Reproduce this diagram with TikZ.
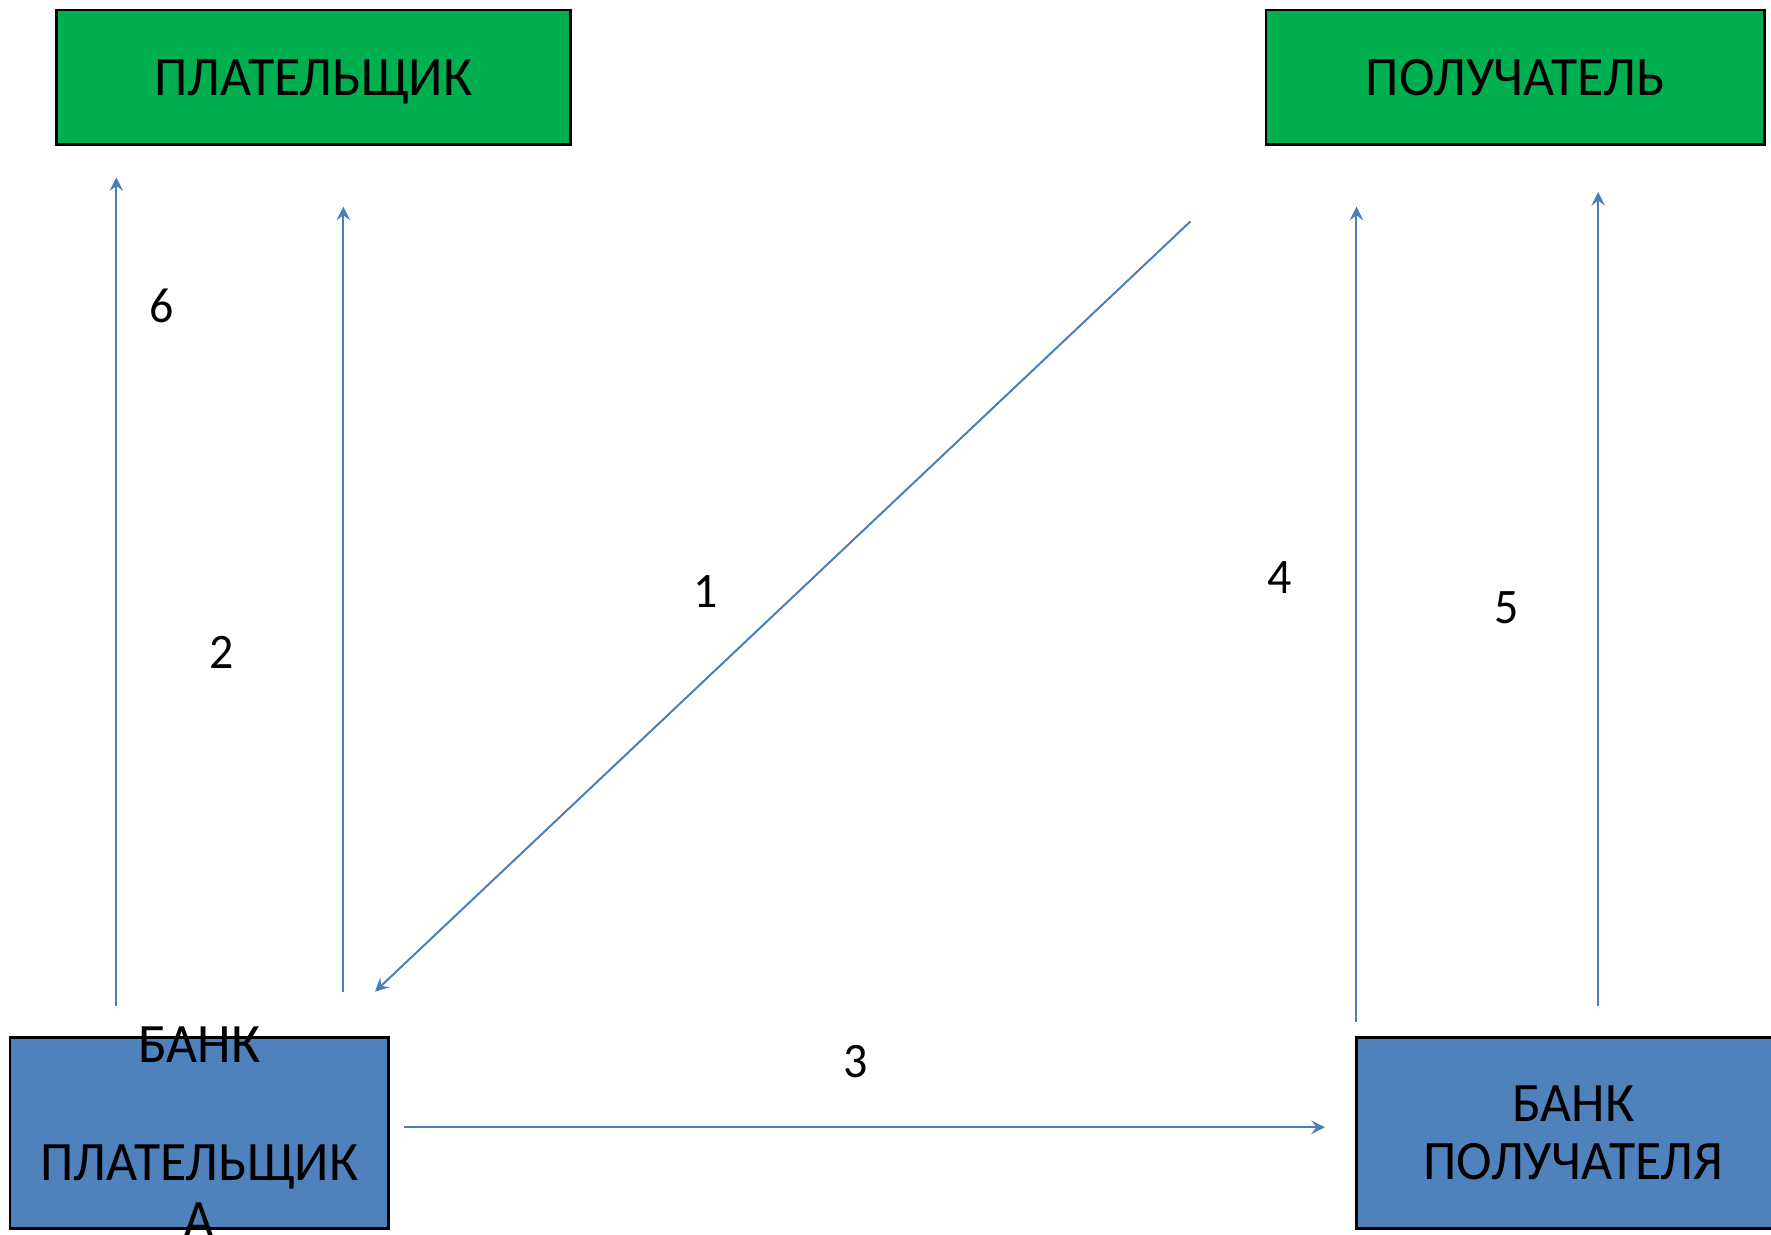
\documentclass[tikz,border=0pt]{standalone}
\usepackage{fontspec}
\setmainfont{Carlito}[FakeStretch = 0.965]
\usetikzlibrary{arrows, positioning, calc}

\definecolor{boxgreen}{HTML}{00B050}
\definecolor{boxblue}{HTML}{4F81BD}
\definecolor{flow}{HTML}{4A7EBB}

\begin{document}
\begin{tikzpicture} [-> , >= stealth, line width = 0.5pt, x = 0.01cm, y = -0.01cm,
  party/.style = {draw, line width = 0.6pt, fill = boxgreen, minimum height = 1.19cm, text depth = 0pt, font = \fontsize{14}{14.8}\selectfont},
  bank/.style = {draw, line width = 0.6pt, fill = boxblue, minimum height = 1.69cm, align = center, font = \fontsize{14}{14.8}\selectfont},
  stepno/.style = {font = \fontsize{12.5}{14}\selectfont}]

\useasboundingbox (0, 0) rectangle (1568, 1093);

\node [party, minimum width = 4.55cm] (pl) at (277.5, 68.5) {ПЛАТЕЛЬЩИК};
\node [party, minimum width = 4.41cm] (po) at (1341.5, 68.5) {ПОЛУЧАТЕЛЬ};

\node [bank, minimum width = 3.35cm] (bpl) at (176.5, 1003) {};
\node [align = center, font = \fontsize{14}{14.8}\selectfont] (bpltext) at (bpl) {БАНК\\[14.8pt]ПЛАТЕЛЬЩИК\\А};
\node [bank, minimum width = 3.84cm] (bpo) at (1393, 1003) {БАНК\\ПОЛУЧАТЕЛЯ};

% arrow ends
\coordinate (a6s) at (103, 891);
\coordinate (a6e) at (103, 157);
\coordinate (a2s) at (304, 878);
\coordinate (a2e) at (304, 183);
\coordinate (a1s) at (1054, 196);
\coordinate (a1e) at (332, 878);
\coordinate (a4s) at (1201, 905);
\coordinate (a4e) at (1201, 183);
\coordinate (a5s) at (1415, 891);
\coordinate (a5e) at (1415, 170);
\coordinate (a3s) at (358, 998);
\coordinate (a3e) at (1173, 998);

\draw [flow] (a6s) -- (a6e);
\draw [flow] (a2s) -- (a2e);
\draw [flow] (a1s) -- (a1e);
\draw [flow] (a4s) -- (a4e);
\draw [flow] (a5s) -- (a5e);
\draw [flow] (a3s) -- (a3e);

\node [stepno] (n6) at (143, 271) {6};
\node [stepno] (n2) at (196, 578) {2};
\node [stepno] (n1) at (625, 524) {1};
\node [stepno] (n4) at (1133, 511) {4};
\node [stepno] (n5) at (1334, 538) {5};
\node [stepno] (n3) at (758, 940) {3};

\end{tikzpicture}
\end{document}
